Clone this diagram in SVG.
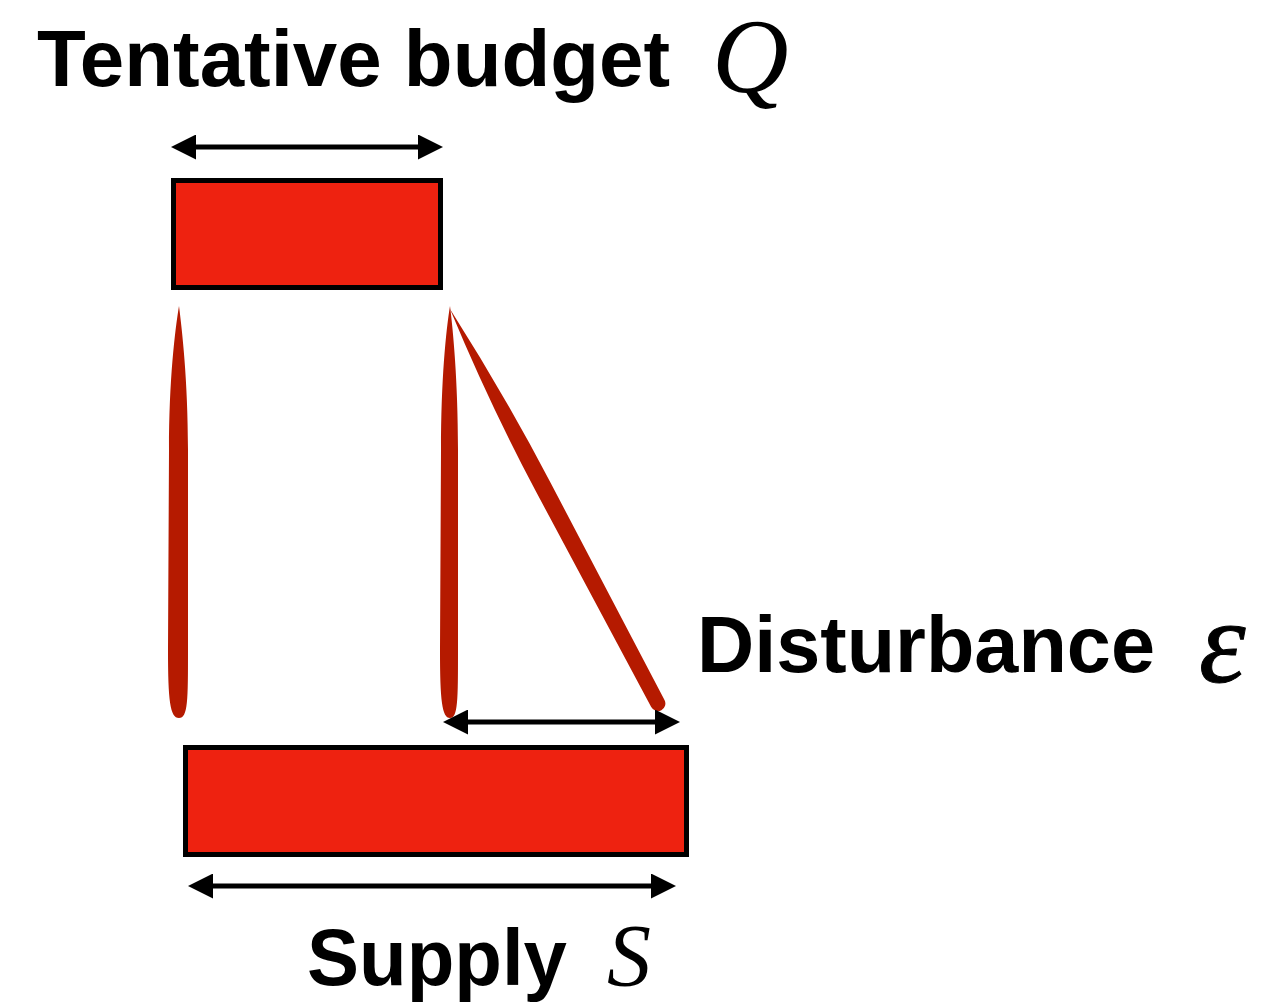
<svg xmlns="http://www.w3.org/2000/svg" width="1266" height="1004" viewBox="0 0 1266 1004">
  <style>
    .box { fill: #ee2210; stroke: #000; stroke-width: 5; }
    .lbl { font-family: "Liberation Sans", Arial, sans-serif; font-weight: bold; font-size: 80px; fill: #000; }
    .math { font-family: "Liberation Serif", "Times New Roman", serif; font-style: italic; fill: #000; }
    .brush { fill: #b51a00; }
    .arr { stroke: #000; stroke-width: 5; fill: none; marker-start: url(#ah); marker-end: url(#ah); }
  </style>
  <defs>
    <marker id="ah" markerUnits="userSpaceOnUse" markerWidth="25" markerHeight="25" viewBox="0 0 25 25" refX="5" refY="12.5" orient="auto-start-reverse">
      <path d="M0,0 L25,12.5 L0,25 Z" fill="#000"/>
    </marker>
  </defs>
  <rect width="1266" height="1004" fill="#fff"/>

  <g id="label-budget">
    <text class="lbl" x="37" y="86" textLength="633" lengthAdjust="spacingAndGlyphs">Tentative budget</text>
    <text class="math" x="712" y="92" font-size="106">Q</text>
  </g>

  <g id="budget-box">
    <rect class="box" x="173.5" y="180.5" width="267" height="107"/>
  </g>

  <g id="brushes">
    <path class="brush" d="M179,306 C182,330 188,380 188,450 L188,650 C188,700 188,718 179,718 C170,718 168,700 168,650 L169,450 C169,380 175,330 179,306 Z"/>
    <path class="brush" d="M450,306 C453,330 458,380 458,450 L458,650 C458,700 458,718 450,718 C442,718 440,700 440,650 L441,450 C441,380 446,330 450,306 Z"/>
    <path class="brush" d="M450,309 Q504,394 550.7,483 L664.5,700 A7.5,7.5 0 0 1 651.2,707.1 L535.7,491 Q489,403 450,309 Z"/>
  </g>

  <g id="label-disturbance">
    <text class="lbl" x="697" y="672" textLength="458" lengthAdjust="spacingAndGlyphs">Disturbance</text>
    <text class="math" x="1199" y="682" font-size="118" stroke="#000" stroke-width="1">ε</text>
  </g>

  <g id="supply-box">
    <rect class="box" x="185.5" y="747.5" width="501" height="107"/>
  </g>

  <g id="label-supply">
    <text class="lbl" x="307" y="985" textLength="260" lengthAdjust="spacingAndGlyphs">Supply</text>
    <text class="math" x="607" y="985" font-size="88">S</text>
  </g>

  <g id="connectors">
    <line class="arr" x1="191" y1="147" x2="423" y2="147"/>
    <line class="arr" x1="463" y1="722" x2="660" y2="722"/>
    <line class="arr" x1="208" y1="886" x2="656" y2="886"/>
  </g>
</svg>
